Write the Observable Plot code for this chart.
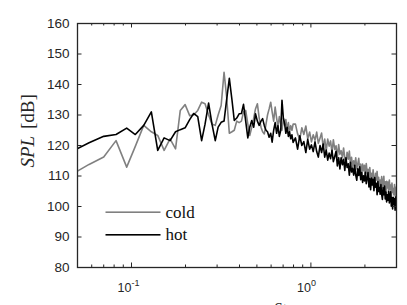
<!DOCTYPE html>
<html><head><meta charset="utf-8">
<script src="https://cdn.jsdelivr.net/npm/d3@7"></script>
<script src="https://cdn.jsdelivr.net/npm/@observablehq/plot@0.6"></script>
<style>html,body{margin:0;padding:0;background:#fff;}</style>
</head><body><div id="chart"></div>
<script>
const St = [
0.047,0.058,0.070,0.082,0.094,0.105,0.117,0.129,0.140,0.152,0.164,0.176,0.187,0.199,0.211,0.222,0.234,0.246,0.257,0.269,0.281,0.293,0.304,0.316,0.328,0.339,0.351,0.363,0.374,0.386,0.398,
0.410,0.421,0.433,0.445,0.456,0.468,0.480,0.491,0.503,0.515,0.527,0.538,0.550,0.562,0.573,0.585,0.597,0.608,0.620,0.632,0.644,0.655,0.667,0.679,0.690,0.702,0.714,0.725,0.737,0.749,0.760,0.772,0.784,0.796,
0.820,0.843,0.867,0.890,0.913,0.937,0.960,0.984,1.007,1.030,
1.054,1.077,1.100,1.124,1.147,1.171,1.194,1.217,1.241,1.264,
1.287,1.311,1.334,1.358,1.381,1.404,1.428,1.451,1.474,1.498,
1.521,1.545,1.568,1.591,1.615,1.638,1.661,1.685,1.708,1.732,
1.755,1.778,1.802,1.825,1.848,1.872,1.895,1.919,1.942,1.965,
1.989,2.012,2.035,2.059,2.082,2.106,2.129,2.152,2.176,2.199,
2.222,2.246,2.269,2.293,2.316,2.339,2.363,2.386,2.409,2.433,
2.456,2.480,2.503,2.526,2.550,2.573,2.596,2.620,2.643,2.667,
2.690,2.713,2.737,2.760,2.783,2.807,2.830,2.854,2.877,2.900,
2.924,2.947,2.970,2.994,3.017,3.041
];
const cold = [
110.7,113.8,116.2,121.6,112.9,119.7,126.6,124.5,123.3,118.4,122.2,118.9,131.5,133.4,129.8,130.0,131.5,134.2,133.7,130.0,127.0,126.6,130.0,133.1,144.0,136.0,124.0,124.5,125.0,128.0,127.5,
128,131,131.5,127,123.3,126,129,132,133.7,129,126,124.5,123.8,127,130,132,134.2,131,128,132.6,129,126,129.5,127,125,129,126.5,128.5,125,127.5,124.5,126.5,125,127,
127,123.8,122.1,125.8,123.6,126.4,122.2,124.4,121.2,123.5,
121.7,124.4,120.7,122.4,124.1,119.4,122.1,118.3,122.1,119.8,
121.5,117.7,121.9,118.7,119.9,116.1,120.3,117.1,118.3,116,
119.2,115.9,114.1,117.8,115.5,118.2,113.9,116.1,112.8,115,
113.2,116,112.3,114,115.8,111.1,113.9,110.1,113.9,111.7,
113.5,109.8,114.1,110.9,112.2,108.5,112.8,109.6,110.9,108.7,
112,108.8,107.1,110.9,108.7,111.5,107.3,109.6,106.4,108.7,
107,109.8,106.2,108,109.9,105.2,108.1,104.4,108.3,106.1,
108,104.4,108.7,105.6,107,103.3,107.7,104.6,105.9,103.8,
107.2,104.1,102.5,106.4,104.3,107.2
];
const hot = [
118.2,120.9,123.0,123.6,125.7,123.6,126.6,131.0,118.4,122.5,121.6,124.5,125.2,125.8,128.5,130.5,129.5,121.6,127.0,133.9,127.0,121.6,126.0,127.6,128.0,135.0,142.0,135.0,128.2,129.0,130.4,
130.5,133.5,128,122.5,126,128.2,126,130.4,128,126.6,128,128.8,126.5,125,124.5,122.7,124,121.1,125,127.5,124,126.5,123,125,134.8,129,127.1,124,126,123,124.5,122.2,123.5,121,
122.5,118.8,123.2,120,121.3,117.7,122,118.8,120.2,118,
121.2,118,116.2,120,117.7,120.5,116.2,118.5,115.2,117.5,
115.7,118.4,114.7,116.4,118.1,113.3,116,112.3,116,113.7,
115.5,111.8,116,112.8,114,110.3,114.5,111.3,112.5,110.3,
113.5,110.3,108.6,112.4,110.2,113,108.8,111.1,107.9,110.1,
108.4,111.2,107.5,109.3,111.1,106.4,109.2,105.5,109.3,107.1,
108.9,105.2,109.5,106.3,107.6,103.9,108.2,104.9,106.2,104,
107.2,104,102.3,106.1,103.9,106.7,102.5,104.7,101.5,103.8,
102.1,104.9,101.2,103,104.8,100.1,102.9,99.2,103,100.7,
102.5,98.8,103.1,99.9,101.2,97.4
];
const yTicks = [80,90,100,110,120,130,140,150,160];
const xMajor = [0.1, 1];
const xMajorBase = ["10","10"];
const xMajorExp = ["-1","0"];
const xMinor = [0.05,0.06,0.07,0.08,0.09,0.2,0.3,0.4,0.5,0.6,0.7,0.8,0.9,2,3];
const seriesNames = ["cold","hot"];
const seriesColors = ["#808080","#000000"];
const yLabelMain = "SPL";
const yLabelUnit = "[dB]";
const xLabel = "St";

const W = 407, H = 305, mL = 77, mR = 11, mT = 23, mB = 38;
const pw = W - mL - mR, ph = H - mT - mB;
const n = Math.min(St.length, cold.length, hot.length);
const data = St.slice(0, n).map((s, i) => ({St: s, cold: cold[i], hot: hot[i]}));
const axisColor = "#262626";
const sans = "'Liberation Sans', Arial, Helvetica, sans-serif";
const serif = "'Liberation Serif', 'Times New Roman', serif";

const legX = 28, legLen = 55, legY = [211.7, 234.3];

const chart = Plot.plot({
  width: W, height: H,
  marginLeft: mL, marginRight: mR, marginTop: mT, marginBottom: mB,
  x: {type: "log", domain: [0.05, 3], axis: null},
  y: {domain: [80, 160], axis: null},
  style: {background: "#fff", fontFamily: sans, color: axisColor, overflow: "hidden"},
  marks: [
    Plot.line(data, {x: "St", y: "cold", stroke: seriesColors[0], strokeWidth: 1.6, clip: true}),
    Plot.line(data, {x: "St", y: "hot", stroke: seriesColors[1], strokeWidth: 1.6, clip: true}),
    Plot.tickX(xMajor, {x: d => d, insetTop: ph - 4.5, stroke: axisColor}),
    Plot.tickX(xMajor, {x: d => d, insetBottom: ph - 4.5, stroke: axisColor}),
    Plot.tickX(xMinor, {x: d => d, insetTop: ph - 2.5, stroke: axisColor}),
    Plot.tickX(xMinor, {x: d => d, insetBottom: ph - 2.5, stroke: axisColor}),
    Plot.tickY(yTicks, {y: d => d, insetRight: pw - 4.5, stroke: axisColor}),
    Plot.tickY(yTicks, {y: d => d, insetLeft: pw - 4.5, stroke: axisColor}),
    Plot.frame({stroke: axisColor, strokeWidth: 1.3}),
    Plot.text(yTicks, {y: d => d, text: d => String(d), frameAnchor: "left", textAnchor: "end", dx: -8, fontSize: 13.5, fill: axisColor}),
    Plot.text(xMajor, {x: d => d, text: (d, i) => xMajorBase[i], frameAnchor: "bottom", textAnchor: "end", lineAnchor: "bottom", dy: 24, fontSize: 12.5, fill: axisColor}),
    Plot.text(xMajor, {x: d => d, text: (d, i) => xMajorExp[i], frameAnchor: "bottom", textAnchor: "start", lineAnchor: "bottom", dy: 18, fontSize: 9, fill: axisColor}),
    Plot.text([yLabelMain], {text: d => d, frameAnchor: "left", dx: -50, dy: 22, rotate: -90, fontStyle: "italic", fontFamily: serif, fontSize: 19, fill: axisColor}),
    Plot.text([yLabelUnit], {text: d => d, frameAnchor: "left", dx: -50, dy: -16.5, rotate: -90, fontFamily: serif, fontSize: 19, fill: axisColor}),
    Plot.text([xLabel], {text: d => d, frameAnchor: "bottom", dx: 43, dy: 46, lineAnchor: "bottom", fontStyle: "italic", fontFamily: serif, fontSize: 16, fill: axisColor}),
    ...seriesNames.map((name, i) => Plot.frame({
      fill: seriesColors[i],
      insetLeft: legX, insetRight: pw - legX - legLen,
      insetTop: legY[i] - mT - 0.8, insetBottom: mT + ph - legY[i] - 0.8
    })),
    ...seriesNames.map((name, i) => Plot.text([name], {
      text: d => d, frameAnchor: "bottom-left", dx: legX + legLen + 5, dy: legY[i] - (mT + ph),
      textAnchor: "start", lineAnchor: "middle", fontFamily: serif, fontSize: 17, fill: "#111"
    }))
  ]
});
document.getElementById("chart").appendChild(chart);
</script>
</body></html>
